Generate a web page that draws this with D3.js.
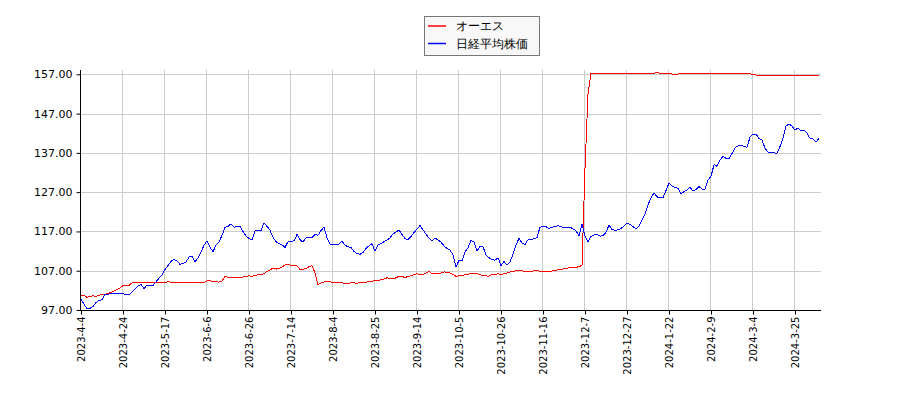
<!DOCTYPE html>
<html lang="ja">
  <head>
    <meta charset='utf-8'>
    <script type="text/javascript" src="https://cdn.jsdelivr.net/npm/d3@7"></script>
    <title>オーエス 日経平均株価</title>
    <style>
      body{margin:0;background:#fff;}
      text{font-family:"DejaVu Sans",sans-serif;}
    </style>
  </head>
  <body>
    <div id="mainDiv"></div>
    <script type="text/javascript">
      //Data: one value per trading day, starting 2023-4-4
      var tickLabels=["2023-4-4","2023-4-24","2023-5-17","2023-6-6","2023-6-26","2023-7-14","2023-8-4","2023-8-25","2023-9-14","2023-10-5","2023-10-26","2023-11-16","2023-12-7","2023-12-27","2024-1-22","2024-2-9","2024-3-4","2024-3-25"];
      var tickEvery=14;
      var yTicks=[97,107,117,127,137,147,157];
      var seriesNames=["オーエス","日経平均株価"];
      var seriesColors=["#ff0000","#0000ff"];
      var osValues=[100.6,100.8,100.2,100.5,100.6,100.4,100.75,100.9,101.0,101.3,
        101.4,101.8,102.2,102.6,103.2,103.25,103.25,103.9,104.0,104.1,
        103.9,103.9,103.9,103.9,103.9,103.9,103.9,104.0,103.9,104.2,
        104.1,103.9,103.9,104.0,104.0,103.9,104.1,104.0,103.9,104.0,
        104.0,104.0,104.4,104.4,104.3,104.2,104.1,104.3,105.6,105.3,
        105.25,105.2,105.25,105.3,105.4,105.6,105.7,105.6,105.8,106.0,
        106.0,106.3,106.8,107.2,107.7,107.4,107.6,107.9,108.5,108.7,
        108.3,108.3,108.25,107.3,107.3,107.6,108.0,108.25,106.5,103.4,
        103.9,104.1,104.3,104.2,103.9,103.9,103.9,103.9,103.75,103.8,
        103.9,103.9,103.8,104.0,104.1,104.1,104.2,104.3,104.5,104.5,
        104.75,104.9,105.2,105.0,104.9,105.2,105.6,105.5,105.3,105.5,
        105.75,106.0,106.2,106.0,106.1,106.4,106.8,106.3,106.25,106.3,
        106.4,106.7,106.6,106.4,106.0,105.6,105.7,105.8,106.0,106.1,
        106.25,106.2,106.25,106.0,105.75,105.7,105.6,106.0,106.1,106.2,
        106.0,106.2,106.4,106.7,106.8,107.0,107.1,107.0,106.8,106.8,
        106.8,107.0,107.1,106.8,106.7,106.7,106.7,106.9,107.1,107.2,
        107.3,107.5,107.6,107.8,107.9,107.8,108.1,108.3,133.0,152.0,
        157.3,157.3,157.3,157.3,157.3,157.3,157.3,157.3,157.3,157.3,
        157.3,157.3,157.3,157.3,157.3,157.3,157.3,157.3,157.3,157.3,
        157.3,157.3,157.4,157.3,157.3,157.3,157.3,157.1,156.8,157.1,
        157.3,157.1,157.1,157.2,157.3,157.3,157.3,157.3,157.3,157.3,
        157.3,157.3,157.3,157.3,157.3,157.3,157.3,157.3,157.3,157.3,
        157.3,157.2,157.2,157.1,157.0,156.8,156.8,156.8,156.8,156.8,
        156.8,156.8,156.8,156.8,156.8,156.8,156.8,156.8,156.8,156.8,
        156.8,156.8,156.8,156.8,156.8,156.8,156.8];
      var nikkeiValues=[99.8,98.5,97.3,97.4,97.9,98.9,99.4,99.6,101.0,101.0,
        101.2,101.3,101.2,101.1,101.1,101.0,100.8,101.5,102.3,103.1,
        103.5,102.5,103.3,103.1,103.2,104.2,105.1,105.9,107.3,108.3,
        109.4,109.9,109.5,108.6,108.9,109.2,110.5,110.6,109.3,110.3,
        111.7,113.5,114.6,113.0,111.8,113.6,114.3,116.0,118.0,118.3,
        118.9,118.1,118.2,118.3,117.0,115.8,115.2,114.9,117.2,117.3,
        117.2,119.2,118.3,117.3,115.5,114.4,113.9,113.6,112.9,114.4,
        114.5,114.6,116.2,114.9,114.3,115.4,115.4,115.5,116.2,116.0,
        117.2,118.1,115.4,113.8,113.7,113.8,113.8,114.5,113.5,113.1,
        112.9,111.9,111.4,111.2,111.6,112.7,113.3,113.9,112.0,113.6,
        113.9,114.4,114.8,115.3,116.4,116.8,117.4,116.2,115.2,114.9,
        115.7,116.7,117.6,118.5,117.4,116.3,115.3,114.5,115.3,114.8,
        114.3,113.3,112.7,112.3,111.0,107.9,109.7,109.5,111.8,112.8,
        114.7,114.3,112.0,113.2,113.1,111.0,110.3,109.8,109.7,110.3,
        108.3,109.3,108.5,109.2,111.2,113.5,115.3,114.0,113.7,114.9,
        115.0,115.1,115.4,118.1,118.2,118.2,117.7,118.1,118.2,118.5,
        118.2,117.9,118.0,118.1,117.6,117.2,115.9,118.8,115.8,114.3,
        115.7,116.1,116.2,115.8,115.9,116.8,118.6,117.5,117.3,117.4,
        117.8,118.3,119.1,118.8,118.2,117.7,118.3,120.0,121.5,123.8,
        125.5,126.8,125.8,125.6,125.6,127.4,129.3,128.5,128.2,128.0,
        126.6,127.1,127.6,128.2,127.3,127.7,128.4,127.8,127.8,130.1,
        131.0,134.0,133.6,135.2,136.1,135.6,135.5,136.8,138.3,138.8,
        138.8,138.7,138.4,141.0,141.8,141.8,140.6,140.3,138.2,137.2,
        137.1,137.0,136.9,138.6,140.8,143.8,144.4,143.8,142.8,143.3,
        142.6,142.8,142.0,140.7,140.6,139.7,140.7];
      var allSeries=[osValues,nikkeiValues];

      var w=900;
      var h=400;
      var left=80;
      var right=821;
      var plotTop=74.3;
      var bottom=310;
      var lastIdx=osValues.length-1;
      //Create SVG
      var svg=d3.select("#mainDiv")
        .append("svg")
        .attr("width",w)
        .attr("height",h);
      //Scales: x is trading-day index
      var x=d3.scaleLinear().domain([0,lastIdx]).range([left+1,left+1+lastIdx*3]);
      var y=d3.scaleLinear().domain([97,157]).range([bottom,plotTop]);
      var xTickIdx=tickLabels.map(function(d,i){return i*tickEvery;});
      //Grid lines
      svg.append("g")
        .selectAll("line.hg")
        .data(yTicks)
        .enter()
        .append("line")
        .attr("x1",left)
        .attr("x2",right)
        .attr("y1",function(d){return Math.round(y(d))+0.5;})
        .attr("y2",function(d){return Math.round(y(d))+0.5;})
        .attr("stroke","#cccccc")
        .attr("stroke-width",1);
      svg.append("g")
        .selectAll("line.vg")
        .data(xTickIdx)
        .enter()
        .append("line")
        .attr("x1",function(d){return Math.round(x(d))-0.5;})
        .attr("x2",function(d){return Math.round(x(d))-0.5;})
        .attr("y1",70)
        .attr("y2",bottom)
        .attr("stroke","#cccccc")
        .attr("stroke-width",1);
      //Lines
      var line=d3.line()
        .x(function(d,i){return x(i);})
        .y(function(d){return y(d);});
      allSeries.forEach(function(s,k){
        svg.append("path")
          .datum(s)
          .attr("d",line)
          .attr("fill","none")
          .attr("stroke",seriesColors[k])
          .attr("stroke-width",1)
          .attr("shape-rendering","crispEdges");
      });
      //Axes
      var yAxis=d3.axisLeft(y)
        .tickValues(yTicks)
        .tickSize(4)
        .tickFormat(d3.format(".2f"));
      var yG=svg.append("g")
        .attr("transform","translate("+(left+0.5)+",0)")
        .call(yAxis);
      yG.selectAll("text")
        .attr("font-size","11px")
        .attr("fill","#000")
        .attr("x",-8)
        .attr("font-family","DejaVu Sans");
      var xAxis=d3.axisBottom(x)
        .tickValues(xTickIdx)
        .tickSize(4)
        .tickFormat(function(d,i){return tickLabels[i];});
      var xG=svg.append("g")
        .attr("transform","translate(0,"+(bottom+0.5)+")")
        .call(xAxis);
      xG.select(".domain").attr("d","M"+left+",0H"+right);
      xG.selectAll("text")
        .attr("font-size","10px")
        .attr("fill","#000")
        .attr("font-family","DejaVu Sans")
        .attr("transform","rotate(-90)")
        .attr("text-anchor","end")
        .attr("x",-6)
        .attr("y",0)
        .attr("dy","0.35em");
      yG.select(".domain").attr("d","M0,"+bottom+"V70");
      svg.selectAll(".domain").attr("stroke","#000");
      svg.selectAll(".tick line").attr("stroke","#000");
      //Legend
      var legend=svg.append("g");
      legend.append("rect")
        .attr("x",424.5)
        .attr("y",16.5)
        .attr("width",115)
        .attr("height",39)
        .attr("fill","#f8f8f8")
        .attr("stroke","#777")
        .attr("stroke-width",1);
      seriesNames.forEach(function(name,k){
        legend.append("line")
          .attr("x1",428)
          .attr("x2",446)
          .attr("y1",26+k*17.5)
          .attr("y2",26+k*17.5)
          .attr("stroke",seriesColors[k])
          .attr("stroke-width",1.5);
        legend.append("text")
          .attr("x",456)
          .attr("y",26+k*17.5)
          .attr("dy","0.35em")
          .attr("font-size","12px")
          .attr("font-family","'Noto Sans CJK JP',sans-serif")
          .attr("fill","#000")
          .text(name);
      });
    </script>
  </body>
</html>
